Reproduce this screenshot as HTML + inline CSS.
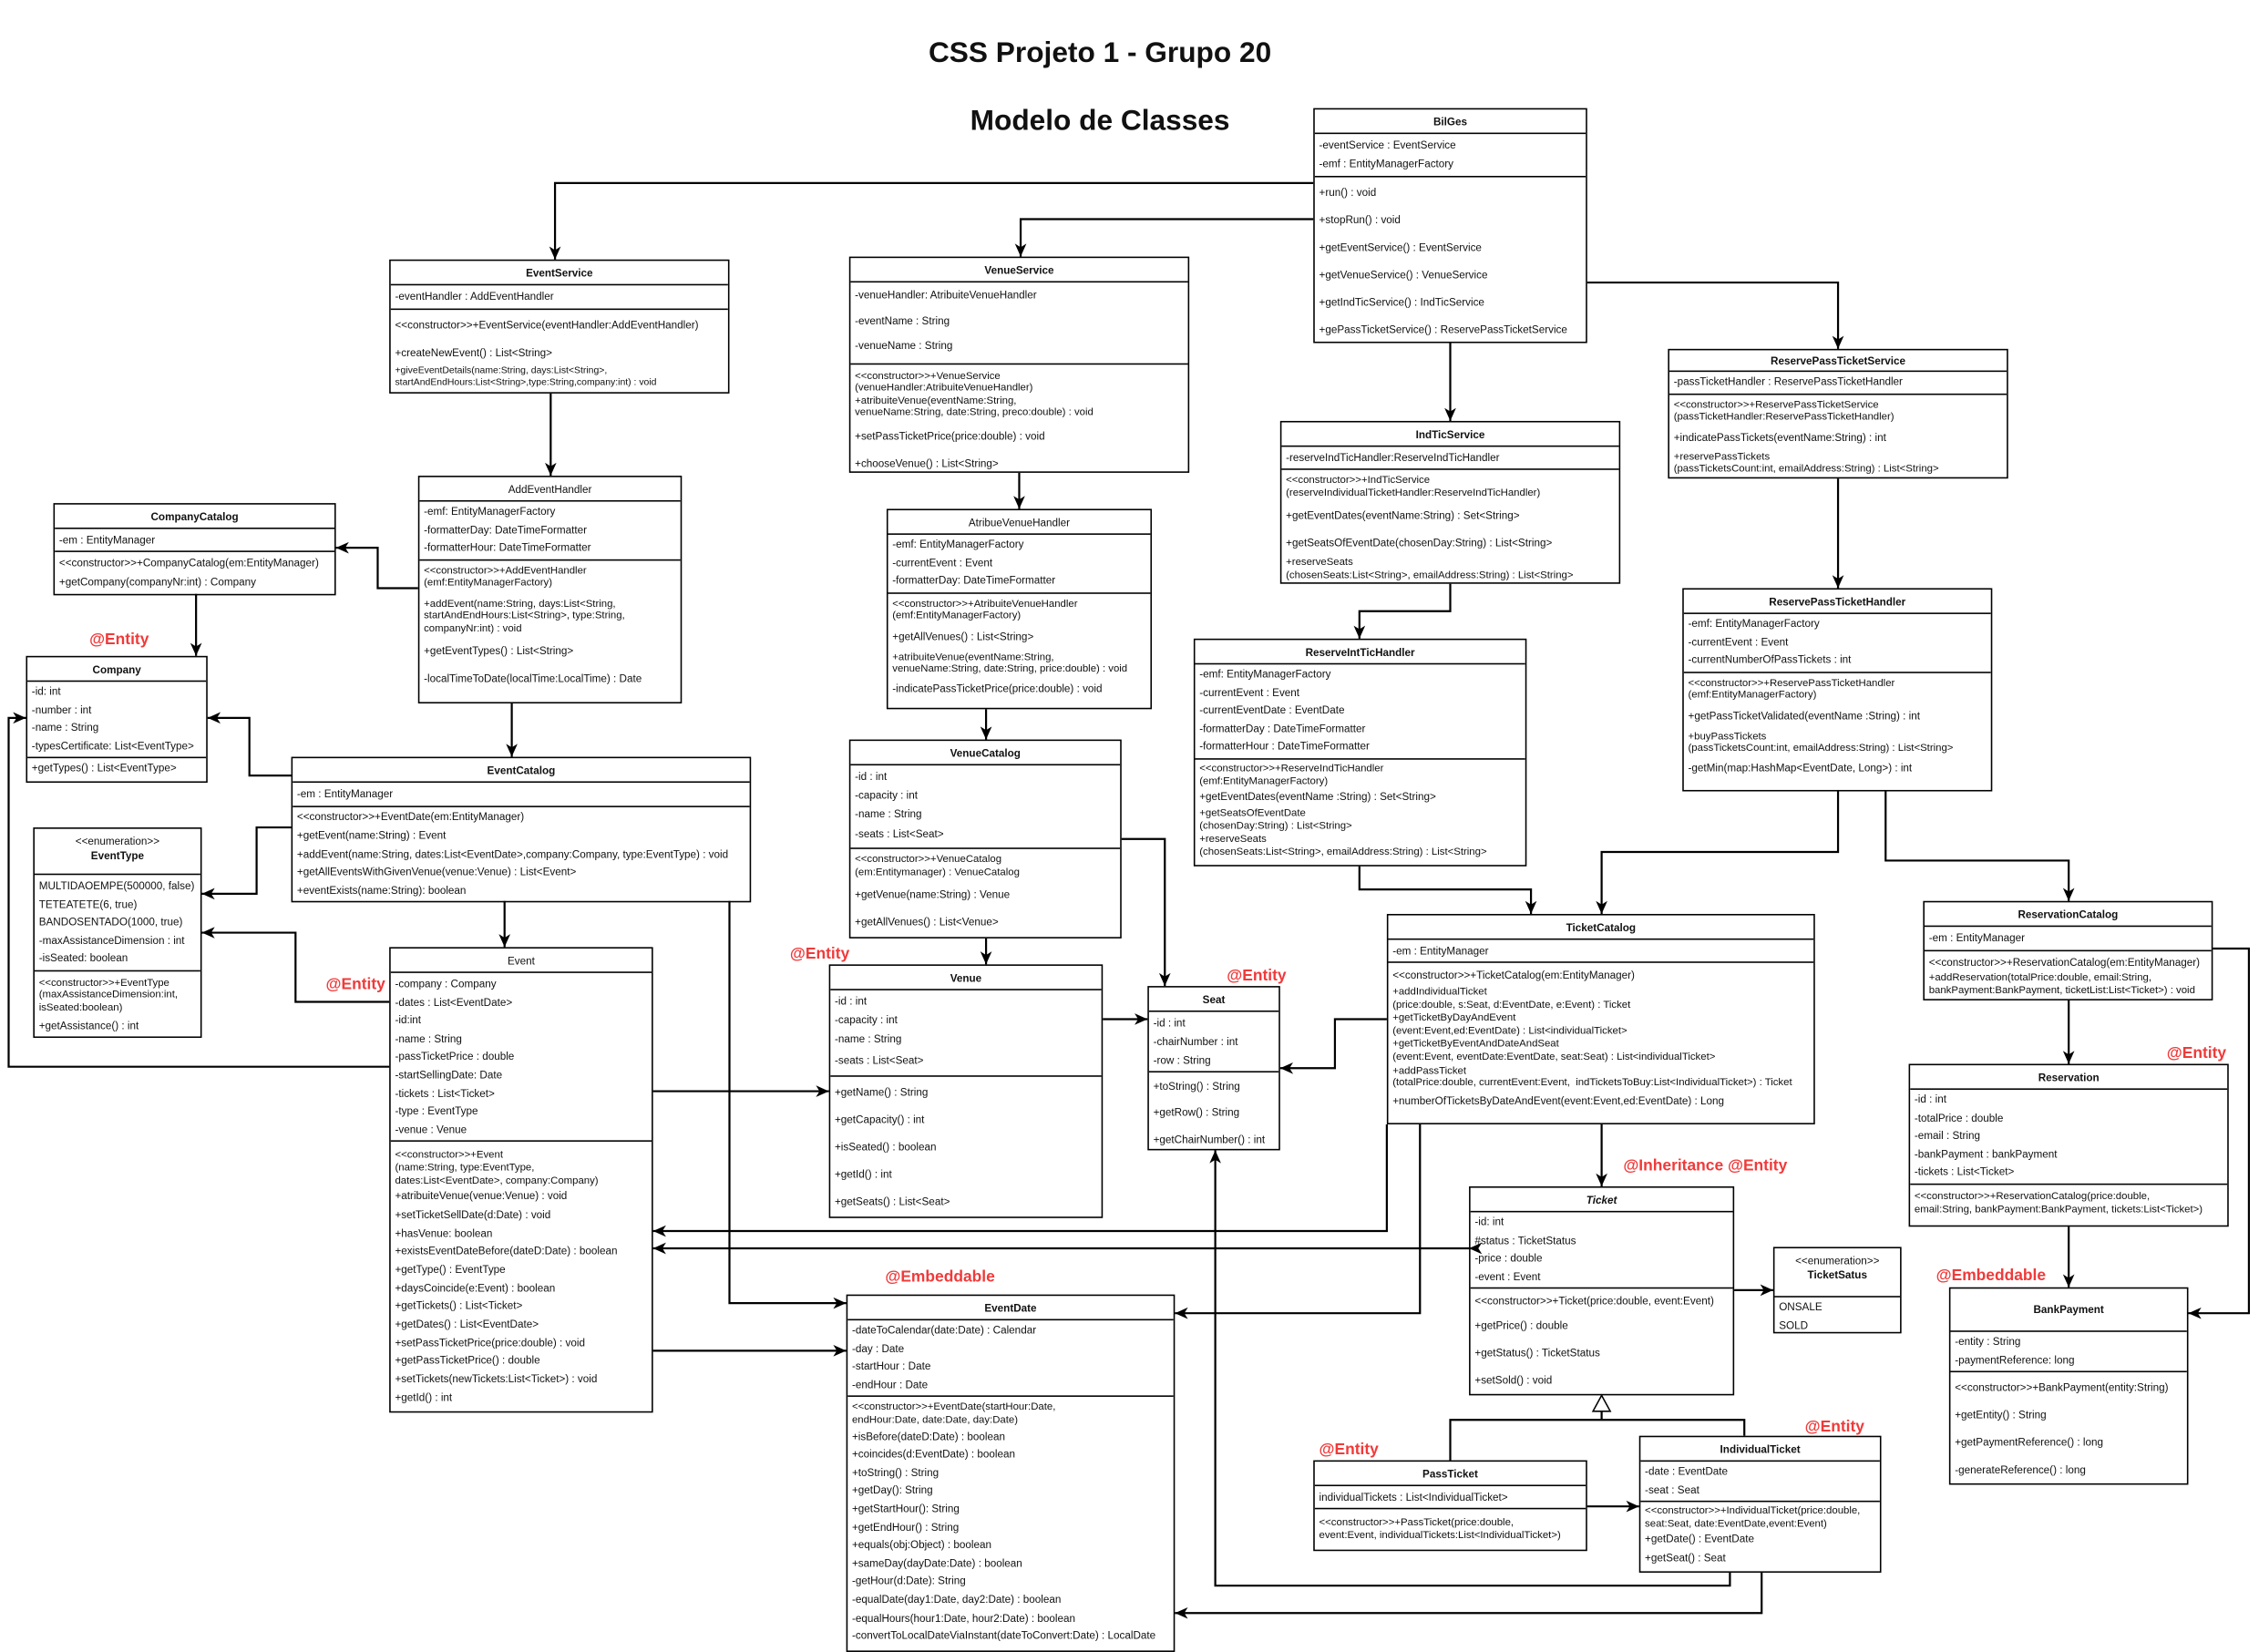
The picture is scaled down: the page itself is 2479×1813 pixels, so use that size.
<!DOCTYPE html>
<html><head><meta charset="utf-8">
<style>
html,body{margin:0;padding:0;background:#fff;}
body{width:2479px;height:1812px;overflow:hidden;position:relative;}
#c{position:absolute;left:0;top:0;width:1567px;height:1146px;transform:scale(1.582);transform-origin:0 0;font-family:"Liberation Sans",sans-serif;color:#111;}
.b{position:absolute;border:1px solid #000;background:#fff;box-sizing:border-box;font-size:7.4px;line-height:12.5px;overflow:hidden;white-space:nowrap;}
.h{font-weight:bold;text-align:center;border-bottom:1px solid #000;height:17px;line-height:17px;box-sizing:border-box;}
.hn{font-weight:normal;}
.s{padding:1px 3px;border-bottom:1px solid #000;}
.s:last-child{border-bottom:0;}
.g div{line-height:19px;}
.t{line-height:8.6px;font-size:7.2px;margin:2px 0;}
.r{position:absolute;color:#f03a3a;font-weight:bold;font-size:11px;white-space:nowrap;}
.title{position:absolute;font-weight:bold;font-size:20px;white-space:nowrap;transform:translateX(-50%);}
svg{position:absolute;left:0;top:0;}
</style></head><body><div id="c">
<div class="title" style="left:763px;top:26px">CSS Projeto 1 - Grupo 20</div>
<div class="title" style="left:763px;top:73px">Modelo de Classes</div>

<div class="b" style="left:911px;top:75px;width:190px;height:163px">
<div class="h">BilGes</div>
<div class="s" style="padding:2px 3px">-eventService : EventService<br>-emf : EntityManagerFactory</div>
<div class="s g"><div>+run() : void</div><div>+stopRun() : void</div><div>+getEventService() : EventService</div><div>+getVenueService() : VenueService</div><div>+getIndTicService() : IndTicService</div><div>+gePassTicketService() : ReservePassTicketService</div></div>
</div>

<div class="b" style="left:270px;top:180px;width:236px;height:93px">
<div class="h">EventService</div>
<div class="s" style="line-height:14px">-eventHandler : AddEventHandler</div>
<div class="s g"><div>&lt;&lt;constructor&gt;&gt;+EventService(eventHandler:AddEventHandler)</div><div>+createNewEvent() : List&lt;String&gt;</div><div class="t" style="font-size:6.6px;line-height:8px;margin:0">+giveEventDetails(name:String, days:List&lt;String&gt;,<br>startAndEndHours:List&lt;String&gt;,type:String,company:int) : void</div></div>
</div>

<div class="b" style="left:589px;top:178px;width:236px;height:150px">
<div class="h">VenueService</div>
<div class="s" style="line-height:17.5px;padding:0 3px 3px">-venueHandler: AtribuiteVenueHandler<br>-eventName : String<br>-venueName : String</div>
<div class="s"><div class="t" style="margin-top:3px">&lt;&lt;constructor&gt;&gt;+VenueService<br>(venueHandler:AtribuiteVenueHandler)<br>+atribuiteVenue(eventName:String,<br>venueName:String, date:String, preco:double) : void</div><div style="line-height:19px">+setPassTicketPrice(price:double) : void</div><div style="line-height:19px">+chooseVenue() : List&lt;String&gt;</div></div>
</div>

<div class="b" style="left:290px;top:330px;width:183px;height:158px">
<div class="h hn">AddEventHandler</div>
<div class="s">-emf: EntityManagerFactory<br>-formatterDay: DateTimeFormatter<br>-formatterHour: DateTimeFormatter</div>
<div class="s"><div class="t">&lt;&lt;constructor&gt;&gt;+AddEventHandler<br>(emf:EntityManagerFactory)</div><div class="t" style="margin-top:6px">+addEvent(name:String, days:List&lt;String,<br>startAndEndHours:List&lt;String&gt;, type:String,<br>companyNr:int) : void</div><div style="line-height:19px;margin-top:2px">+getEventTypes() : List&lt;String&gt;</div><div style="line-height:19px">-localTimeToDate(localTime:LocalTime) : Date</div></div>
</div>

<div class="b" style="left:37px;top:349px;width:196px;height:64px">
<div class="h">CompanyCatalog</div>
<div class="s" style="line-height:13px">-em : EntityManager</div>
<div class="s" style="line-height:13px">&lt;&lt;constructor&gt;&gt;+CompanyCatalog(em:EntityManager)<br>+getCompany(companyNr:int) : Company</div>
</div>

<div class="b" style="left:18px;top:455px;width:126px;height:88px">
<div class="h">Company</div>
<div class="s">-id: int<br>-number : int<br>-name : String<br>-typesCertificate: List&lt;EventType&gt;</div>
<div class="s">+getTypes() : List&lt;EventType&gt;</div>
</div>

<div class="b" style="left:202px;top:525px;width:319px;height:101px">
<div class="h">EventCatalog</div>
<div class="s" style="line-height:14px">-em : EntityManager</div>
<div class="s" style="line-height:12.8px">&lt;&lt;constructor&gt;&gt;+EventDate(em:EntityManager)<br>+getEvent(name:String) : Event<br>+addEvent(name:String, dates:List&lt;EventDate&gt;,company:Company, type:EventType) : void<br>+getAllEventsWithGivenVenue(venue:Venue) : List&lt;Event&gt;<br>+eventExists(name:String): boolean</div>
</div>

<div class="b" style="left:23px;top:574px;width:117px;height:146px">
<div class="h hn" style="height:32px;line-height:10px;padding-top:4px">&lt;&lt;enumeration&gt;&gt;<br><b>EventType</b></div>
<div class="s" style="padding-top:2px">MULTIDAOEMPE(500000, false)<br>TETEATETE(6, true)<br>BANDOSENTADO(1000, true)<br>-maxAssistanceDimension : int<br>-isSeated: boolean</div>
<div class="s"><div class="t" style="margin:3px 0">&lt;&lt;constructor&gt;&gt;+EventType<br>(maxAssistanceDimension:int,<br>isSeated:boolean)</div>+getAssistance() : int</div>
</div>

<div class="b" style="left:270px;top:657px;width:183px;height:323px">
<div class="h hn">Event</div>
<div class="s" style="line-height:12.6px;padding-top:2px">-company : Company<br>-dates : List&lt;EventDate&gt;<br>-id:int<br>-name : String<br>-passTicketPrice : double<br>-startSellingDate: Date<br>-tickets : List&lt;Ticket&gt;<br>-type : EventType<br>-venue : Venue</div>
<div class="s" style="line-height:12.7px"><div class="t" style="margin:4px 0 1px">&lt;&lt;constructor&gt;&gt;+Event<br>(name:String, type:EventType,<br>dates:List&lt;EventDate&gt;, company:Company)</div>+atribuiteVenue(venue:Venue) : void<br>+setTicketSellDate(d:Date) : void<br>+hasVenue: boolean<br>+existsEventDateBefore(dateD:Date) : boolean<br>+getType() : EventType<br>+daysCoincide(e:Event) : boolean<br>+getTickets() : List&lt;Ticket&gt;<br>+getDates() : List&lt;EventDate&gt;<br>+setPassTicketPrice(price:double) : void<br>+getPassTicketPrice() : double<br>+setTickets(newTickets:List&lt;Ticket&gt;) : void<br>+getId() : int</div>
</div>

<div class="b" style="left:615px;top:353px;width:184px;height:139px">
<div class="h hn">AtribueVenueHandler</div>
<div class="s">-emf: EntityManagerFactory<br>-currentEvent : Event<br>-formatterDay: DateTimeFormatter</div>
<div class="s"><div class="t">&lt;&lt;constructor&gt;&gt;+AtribuiteVenueHandler<br>(emf:EntityManagerFactory)</div><div style="line-height:16px">+getAllVenues() : List&lt;String&gt;</div><div class="t">+atribuiteVenue(eventName:String,<br>venueName:String, date:String, price:double) : void</div><div style="line-height:14px">-indicatePassTicketPrice(price:double) : void</div></div>
</div>

<div class="b" style="left:589px;top:513px;width:189px;height:138px">
<div class="h">VenueCatalog</div>
<div class="s" style="line-height:13px">-id : int<br>-capacity : int<br>-name : String<br><span style="line-height:16px;display:block">-seats : List&lt;Seat&gt;</span></div>
<div class="s"><div class="t">&lt;&lt;constructor&gt;&gt;+VenueCatalog<br>(em:Entitymanager) : VenueCatalog</div><div style="line-height:19px">+getVenue(name:String) : Venue</div><div style="line-height:19px">+getAllVenues() : List&lt;Venue&gt;</div></div>
</div>

<div class="b" style="left:575px;top:669px;width:190px;height:176px">
<div class="h">Venue</div>
<div class="s" style="line-height:13px">-id : int<br>-capacity : int<br>-name : String<br><span style="line-height:18px;display:block">-seats : List&lt;Seat&gt;</span></div>
<div class="s g"><div>+getName() : String</div><div>+getCapacity() : int</div><div>+isSeated() : boolean</div><div>+getId() : int</div><div>+getSeats() : List&lt;Seat&gt;</div></div>
</div>

<div class="b" style="left:796px;top:684px;width:92px;height:114px">
<div class="h">Seat</div>
<div class="s" style="line-height:13px">-id : int<br>-chairNumber : int<br>-row : String</div>
<div class="s" style="line-height:17.5px">+toString() : String<br>+getRow() : String<br><span style="line-height:22px">+getChairNumber() : int</span></div>
</div>

<div class="b" style="left:888px;top:292px;width:236px;height:113px">
<div class="h">IndTicService</div>
<div class="s" style="line-height:13px">-reserveIndTicHandler:ReserveIndTicHandler</div>
<div class="s"><div class="t">&lt;&lt;constructor&gt;&gt;+IndTicService<br>(reserveIndividualTicketHandler:ReserveIndTicHandler)</div><div style="line-height:19px">+getEventDates(eventName:String) : Set&lt;String&gt;</div><div style="line-height:19px">+getSeatsOfEventDate(chosenDay:String) : List&lt;String&gt;</div><div class="t" style="margin:0">+reserveSeats<br>(chosenSeats:List&lt;String&gt;, emailAddress:String) : List&lt;String&gt;</div></div>
</div>

<div class="b" style="left:828px;top:443px;width:231px;height:158px">
<div class="h">ReserveIntTicHandler</div>
<div class="s" style="line-height:12.6px">-emf: EntityManagerFactory<br>-currentEvent : Event<br>-currentEventDate : EventDate<br>-formatterDay : DateTimeFormatter<br>-formatterHour : DateTimeFormatter</div>
<div class="s"><div class="t" style="margin:1px 0">&lt;&lt;constructor&gt;&gt;+ReserveIndTicHandler<br>(emf:EntityManagerFactory)</div><div style="line-height:12px">+getEventDates(eventName :String) : Set&lt;String&gt;</div><div class="t" style="margin:1px 0">+getSeatsOfEventDate<br>(chosenDay:String) : List&lt;String&gt;</div><div class="t" style="margin:0">+reserveSeats<br>(chosenSeats:List&lt;String&gt;, emailAddress:String) : List&lt;String&gt;</div></div>
</div>

<div class="b" style="left:1157px;top:242px;width:236px;height:90px">
<div class="h" style="height:15px;line-height:15px">ReservePassTicketService</div>
<div class="s">-passTicketHandler : ReservePassTicketHandler</div>
<div class="s"><div class="t">&lt;&lt;constructor&gt;&gt;+ReservePassTicketService<br>(passTicketHandler:ReservePassTicketHandler)</div><div style="line-height:15px">+indicatePassTickets(eventName:String) : int</div><div class="t">+reservePassTickets<br>(passTicketsCount:int, emailAddress:String) : List&lt;String&gt;</div></div>
</div>

<div class="b" style="left:1167px;top:408px;width:215px;height:141px">
<div class="h">ReservePassTicketHandler</div>
<div class="s">-emf: EntityManagerFactory<br>-currentEvent : Event<br>-currentNumberOfPassTickets : int</div>
<div class="s"><div class="t">&lt;&lt;constructor&gt;&gt;+ReservePassTicketHandler<br>(emf:EntityManagerFactory)</div><div style="line-height:16px">+getPassTicketValidated(eventName :String) : int</div><div class="t">+buyPassTickets<br>(passTicketsCount:int, emailAddress:String) : List&lt;String&gt;</div><div style="line-height:13px">-getMin(map:HashMap&lt;EventDate, Long&gt;) : int</div></div>
</div>

<div class="b" style="left:962px;top:634px;width:297px;height:146px">
<div class="h">TicketCatalog</div>
<div class="s" style="line-height:13px">-em : EntityManager</div>
<div class="s"><div style="line-height:13px;margin-top:1px">&lt;&lt;constructor&gt;&gt;+TicketCatalog(em:EntityManager)</div><div class="t" style="margin:1px 0">+addIndividualTicket<br>(price:double, s:Seat, d:EventDate, e:Event) : Ticket</div><div class="t" style="margin:1px 0">+getTicketByDayAndEvent<br>(event:Event,ed:EventDate) : List&lt;individualTicket&gt;</div><div class="t" style="margin:1px 0">+getTicketByEventAndDateAndSeat<br>(event:Event, eventDate:EventDate, seat:Seat) : List&lt;individualTicket&gt;</div><div class="t" style="margin:1px 0">+addPassTicket<br>(totalPrice:double, currentEvent:Event,&nbsp; indTicketsToBuy:List&lt;IndividualTicket&gt;) : Ticket</div><div style="line-height:14px">+numberOfTicketsByDateAndEvent(event:Event,ed:EventDate) : Long</div></div>
</div>

<div class="b" style="left:1334px;top:625px;width:201px;height:69px">
<div class="h">ReservationCatalog</div>
<div class="s" style="line-height:14px">-em : EntityManager</div>
<div class="s"><div style="line-height:13px">&lt;&lt;constructor&gt;&gt;+ReservationCatalog(em:EntityManager)</div><div class="t" style="margin:0">+addReservation(totalPrice:double, email:String,<br>bankPayment:BankPayment, ticketList:List&lt;Ticket&gt;) : void</div></div>
</div>

<div class="b" style="left:1324px;top:738px;width:222px;height:113px">
<div class="h">Reservation</div>
<div class="s" style="line-height:12.6px">-id : int<br>-totalPrice : double<br>-email : String<br>-bankPayment : bankPayment<br>-tickets : List&lt;Ticket&gt;</div>
<div class="s"><div class="t" style="margin:3px 0">&lt;&lt;constructor&gt;&gt;+ReservationCatalog(price:double,<br>email:String, bankPayment:BankPayment, tickets:List&lt;Ticket&gt;)</div></div>
</div>

<div class="b" style="left:1019px;top:823px;width:184px;height:145px">
<div class="h" style="font-style:italic">Ticket</div>
<div class="s" style="line-height:12.6px">-id: int<br>#status : TicketStatus<br>-price : double<br>-event : Event</div>
<div class="s" style="line-height:19px"><div style="line-height:15px">&lt;&lt;constructor&gt;&gt;+Ticket(price:double, event:Event)</div>+getPrice() : double<br>+getStatus() : TicketStatus<br>+setSold() : void</div>
</div>

<div class="b" style="left:1230px;top:865px;width:89px;height:60px">
<div class="h hn" style="height:34px;line-height:10px;padding-top:4px">&lt;&lt;enumeration&gt;&gt;<br><b>TicketSatus</b></div>
<div class="s">ONSALE<br>SOLD</div>
</div>

<div class="b" style="left:1352px;top:893px;width:166px;height:137px">
<div class="h" style="height:30px;line-height:30px">BankPayment</div>
<div class="s" style="line-height:12.6px">-entity : String<br>-paymentReference: long</div>
<div class="s" style="line-height:19px">&lt;&lt;constructor&gt;&gt;+BankPayment(entity:String)<br>+getEntity() : String<br>+getPaymentReference() : long<br>-generateReference() : long</div>
</div>

<div class="b" style="left:587px;top:898px;width:228px;height:248px">
<div class="h">EventDate</div>
<div class="s" style="line-height:12.6px">-dateToCalendar(date:Date) : Calendar<br>-day : Date<br>-startHour : Date<br>-endHour : Date</div>
<div class="s" style="line-height:12.6px"><div class="t" style="margin:2px 0 1px">&lt;&lt;constructor&gt;&gt;+EventDate(startHour:Date,<br>endHour:Date, date:Date, day:Date)</div>+isBefore(dateD:Date) : boolean<br>+coincides(d:EventDate) : boolean<br>+toString() : String<br>+getDay(): String<br>+getStartHour(): String<br>+getEndHour() : String<br>+equals(obj:Object) : boolean<br>+sameDay(dayDate:Date) : boolean<br>-getHour(d:Date): String<br>-equalDate(day1:Date, day2:Date) : boolean<br>-equalHours(hour1:Date, hour2:Date) : boolean<br>-convertToLocalDateViaInstant(dateToConvert:Date) : LocalDate</div>
</div>

<div class="b" style="left:911px;top:1013px;width:190px;height:63px">
<div class="h">PassTicket</div>
<div class="s" style="line-height:13px">individualTickets : List&lt;IndividualTicket&gt;</div>
<div class="s"><div class="t" style="margin:4px 0">&lt;&lt;constructor&gt;&gt;+PassTicket(price:double,<br>event:Event, individualTickets:List&lt;IndividualTicket&gt;)</div></div>
</div>

<div class="b" style="left:1137px;top:996px;width:168px;height:95px">
<div class="h">IndividualTicket</div>
<div class="s" style="line-height:12.6px">-date : EventDate<br>-seat : Seat</div>
<div class="s" style="line-height:12.6px"><div class="t" style="margin:1px 0">&lt;&lt;constructor&gt;&gt;+IndividualTicket(price:double,<br>seat:Seat, date:EventDate,event:Event)</div>+getDate() : EventDate<br>+getSeat() : Seat</div>
</div>

<div class="r" style="left:62px;top:438px">@Entity</div>
<div class="r" style="left:226px;top:677px">@Entity</div>
<div class="r" style="left:548px;top:656px">@Entity</div>
<div class="r" style="left:851px;top:671px">@Entity</div>
<div class="r" style="left:1503px;top:725px">@Entity</div>
<div class="r" style="left:915px;top:1000px">@Entity</div>
<div class="r" style="left:1252px;top:984px">@Entity</div>
<div class="r" style="left:1126px;top:803px">@Inheritance @Entity</div>
<div class="r" style="left:614px;top:880px">@Embeddable</div>
<div class="r" style="left:1343px;top:879px">@Embeddable</div>

<svg width="1567" height="1146" viewBox="0 0 1567 1146">
<defs><marker id="a" markerUnits="userSpaceOnUse" markerWidth="10" markerHeight="10" refX="9" refY="5" orient="auto"><path d="M0,1 L9,5 L0,9 L2.5,5 Z" fill="#000"/></marker></defs>
<g fill="none" stroke="#000" stroke-width="1.4" marker-end="url(#a)">
<path d="M911,127 H385 V180"/>
<path d="M911,152 H708 V178"/>
<path d="M1101,196 H1275 V242"/>
<path d="M1006,238 V292"/>
<path d="M382,273 V330"/>
<path d="M707,328 V353"/>
<path d="M290,408 H262 V380 H233"/>
<path d="M136,412 V455"/>
<path d="M355,488 V525"/>
<path d="M202,538 H173 V498 H144"/>
<path d="M202,574 H178 V620 H140"/>
<path d="M350,625 V657"/>
<path d="M270,695 H205 V647 H140"/>
<path d="M270,740 H6 V498 H18"/>
<path d="M453,757 H575"/>
<path d="M506,625 V904 H587"/>
<path d="M453,937 H587"/>
<path d="M684,492 V513"/>
<path d="M684,651 V669"/>
<path d="M778,582 H808 V684"/>
<path d="M765,707 H796"/>
<path d="M1006,405 V424 H943 V443"/>
<path d="M943,601 V617 H1062 V634"/>
<path d="M1275,332 V408"/>
<path d="M1275,549 V591 H1111 V634"/>
<path d="M1308,549 V597 H1435 V625"/>
<path d="M962,707 H926 V741 H888"/>
<path d="M962,780 V854 H453"/>
<path d="M985,780 V911 H815"/>
<path d="M1019,866 H453"/>
<path d="M1111,780 V823"/>
<path d="M1203,895 H1230"/>
<path d="M1535,658 H1560 V911 H1518"/>
<path d="M1435,694 V738"/>
<path d="M1435,851 V893"/>
<path d="M1101,1045 H1137"/>
<path d="M1200,1091 V1100 H843 V798"/>
<path d="M1222,1091 V1119 H815"/>
</g>
<path d="M1025,866 H1019" stroke="#000" stroke-width="1.4" marker-end="url(#a)"/>
<path d="M1006,1013 V985 H1210 V996 M1111,985 V979" fill="none" stroke="#000" stroke-width="1.4"/>
<polygon points="1105,979 1117,979 1111,968" fill="#fff" stroke="#000" stroke-width="1"/>
</svg>
</div></body></html>
